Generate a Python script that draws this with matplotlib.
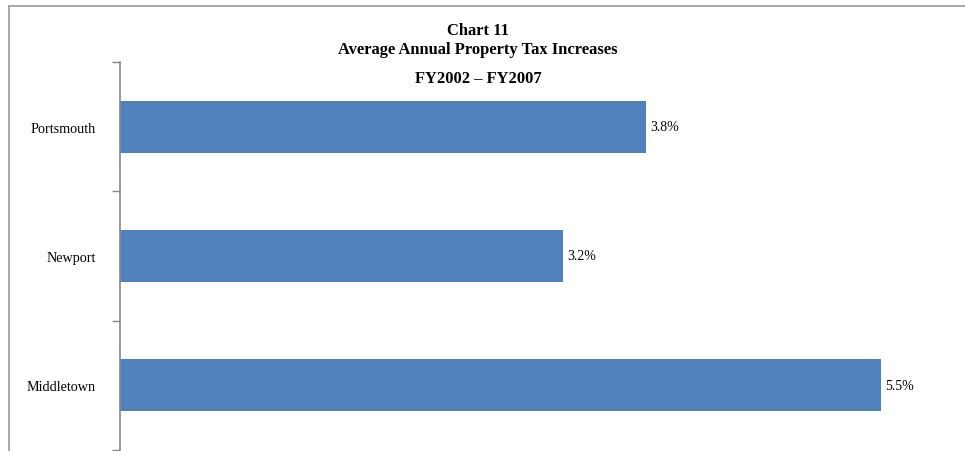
import matplotlib.pyplot as plt
from matplotlib.lines import Line2D

towns = ['Middletown', 'Newport', 'Portsmouth']
increases = [5.5, 3.2, 3.8]

plt.rcParams['font.family'] = ['Liberation Serif', 'DejaVu Serif']

fig = plt.figure(figsize=(9.65, 4.52), dpi=100)
W, H = 965, 452

# outer chart frame (top and left edges)
fig.add_artist(Line2D([9 / W, 1.0], [1 - 7 / H, 1 - 7 / H], transform=fig.transFigure,
                      color='#999999', lw=1.2))
fig.add_artist(Line2D([9 / W, 9 / W], [0, 1 - 7 / H], transform=fig.transFigure,
                      color='#999999', lw=1.2))

ax = fig.add_axes([120 / W, 1 - 451 / H, 830 / W, 388 / H])
pos = range(len(towns))
ax.barh(pos, increases, height=0.4, color='#4F81BD')
for y, v in zip(pos, increases):
    ax.text(v + 0.03, y, f'{v:.1f}%', va='center', ha='left', fontsize=10)

ax.set_xlim(0, 6)
ax.set_ylim(-0.5, 2.5)
ax.set_xticks([])
ax.set_yticks([-0.5, 0.5, 1.5, 2.5], minor=False)
ax.set_yticklabels([])
ax.set_yticks(list(pos), minor=True)
ax.set_yticklabels(towns, minor=True, fontsize=10.2)
ax.tick_params(axis='y', which='major', length=6, color='#888888', width=1)
ax.tick_params(axis='y', which='minor', length=0, pad=17.5)
for s in ['top', 'right', 'bottom']:
    ax.spines[s].set_visible(False)
ax.spines['left'].set_color('#888888')
ax.spines['left'].set_linewidth(1.2)

cx = 478 / W
fig.text(cx, 1 - 31 / H, 'Chart 11', ha='center', va='center',
         fontsize=11.9, fontweight='bold')
fig.text(cx, 1 - 50 / H, 'Average Annual Property Tax Increases', ha='center',
         va='center', fontsize=11.9, fontweight='bold')
fig.text(cx, 1 - 79 / H, 'FY2002 \u2013 FY2007', ha='center', va='center',
         fontsize=11.9, fontweight='bold')

fig.savefig('out.png', dpi=100, facecolor='white')
